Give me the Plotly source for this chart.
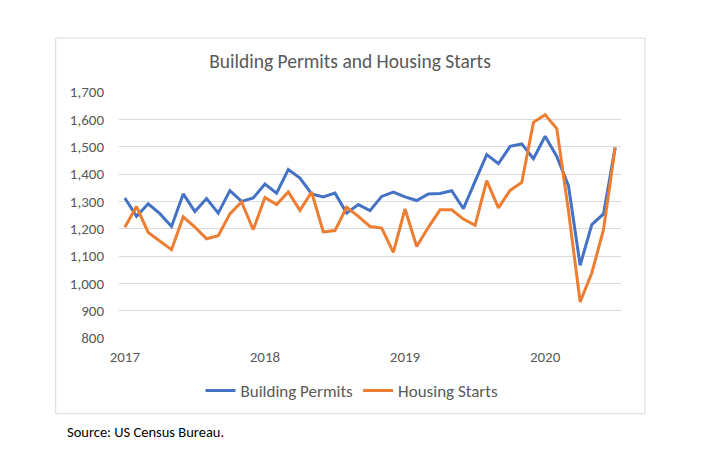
import plotly.graph_objects as go

months = [f"{y}-{m:02d}" for y in range(2017, 2021) for m in range(1, 13)][:43]
year_ticks = ["2017-01", "2018-01", "2019-01", "2020-01"]
year_labels = ["2017", "2018", "2019", "2020"]

permits = [1312, 1245, 1291, 1255, 1208, 1327, 1263, 1310, 1257, 1339, 1300, 1312,
           1363, 1330, 1416, 1385, 1327, 1316, 1330, 1257, 1288, 1266, 1318, 1334,
           1316, 1303, 1327, 1329, 1339, 1273, 1373, 1471, 1438, 1501, 1510, 1456,
           1538, 1464, 1357, 1066, 1215, 1254, 1497]
starts = [1205, 1281, 1186, 1153, 1123, 1243, 1206, 1163, 1174, 1254, 1298, 1196,
          1314, 1288, 1334, 1267, 1334, 1188, 1193, 1278, 1245, 1208, 1202, 1113,
          1272, 1135, 1205, 1269, 1269, 1235, 1212, 1376, 1276, 1340, 1369, 1589,
          1617, 1566, 1265, 932, 1038, 1196, 1497]

FONT = "Calibri, Carlito, Lato, sans-serif"
OFF = 8  # page body margin

L, T, W, H = 119 - OFF, 92.3 - OFF, 502, 246
fig = go.Figure()
fig.add_trace(go.Scatter(x=months, y=permits, mode="lines", name="Building Permits",
                         line=dict(color="#4472C4", width=3)))
fig.add_trace(go.Scatter(x=months, y=starts, mode="lines", name="Housing Starts",
                         line=dict(color="#ED7D31", width=3)))

fig.update_layout(
    width=704, height=466,
    margin=dict(l=L, r=704 - L - W, t=T, b=466 - T - H, autoexpand=False),
    paper_bgcolor="white", plot_bgcolor="white",
    font=dict(family=FONT, color="#595959", size=15),
    title=dict(text="Building Permits and Housing Starts", x=(350 - OFF) / 704,
               xref="container", xanchor="center", y=1 - (61 - OFF) / 466,
               yref="container", yanchor="middle",
               font=dict(size=19.5, color="#595959", family=FONT)),
    xaxis=dict(type="category", range=[-0.5, 42.5], tickmode="array",
               tickvals=year_ticks, ticktext=year_labels, showgrid=False,
               showline=False, zeroline=False, ticks="", ticklabelstandoff=8,
               automargin=False, tickfont=dict(size=15, color="#595959")),
    yaxis=dict(range=[800, 1700], dtick=100, tickformat=",", showgrid=True,
               gridcolor="#d9d9d9", gridwidth=1, zeroline=False, showline=False,
               ticks="", ticklabelstandoff=14, automargin=False,
               tickfont=dict(size=15, color="#595959")),
    legend=dict(orientation="h", x=(352 - OFF) / 704, xref="container", xanchor="center",
                y=1 - (391 - OFF) / 466, yref="container", yanchor="middle",
                font=dict(size=17, color="#595959", family=FONT),
                itemwidth=30, tracegroupgap=0),
    showlegend=True,
)

fig.add_shape(type="rect", xref="paper", yref="paper",
              x0=(55.7 - 119) / W, x1=(645 - 119) / W,
              y0=(338.3 - 414) / H, y1=(338.3 - 38.3) / H,
              line=dict(color="#d9d9d9", width=1), fillcolor="rgba(0,0,0,0)",
              layer="below")

fig.add_annotation(text="Source: US Census Bureau.", xref="paper", yref="paper",
                   x=(65 - 119) / W, y=(338.3 - 432) / H, xanchor="left",
                   yanchor="middle", showarrow=False,
                   font=dict(size=14.5, color="black", family=FONT))

fig.write_html("out.html")
